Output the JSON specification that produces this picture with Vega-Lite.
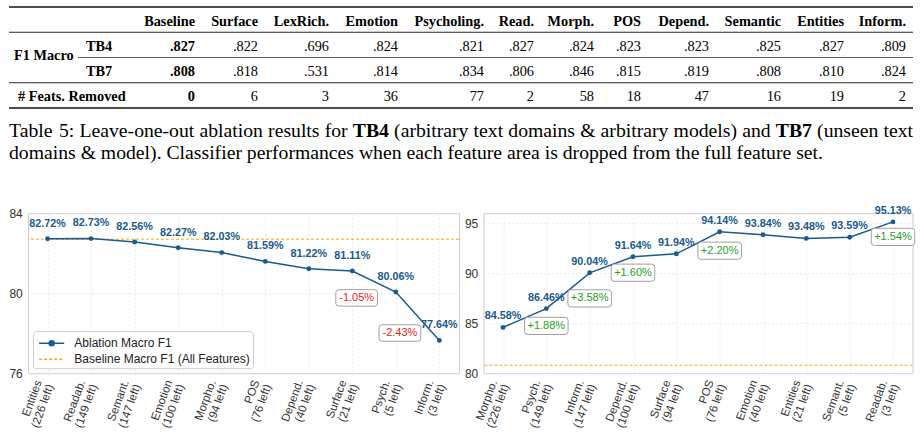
{
 "$schema": "https://vega.github.io/schema/vega-lite/v6.json",
 "background": "white",
 "padding": {"left": 8, "top": 6, "right": 5, "bottom": 0},
 "config": {"view": {"stroke": null}, "font": "Liberation Sans"},
 "datasets": {
  "table": [
   {"k": -1, "r": "TB4", "t": "TB4"}, {"k": -1, "r": "TB7", "t": "TB7"},
   {"k": 0, "r": "header", "t": "Baseline"}, {"k": 0, "r": "TB4", "t": ".827"}, {"k": 0, "r": "TB7", "t": ".808"}, {"k": 0, "r": "feats", "t": "0"},
   {"k": 1, "r": "header", "t": "Surface"}, {"k": 1, "r": "TB4", "t": ".822"}, {"k": 1, "r": "TB7", "t": ".818"}, {"k": 1, "r": "feats", "t": "6"},
   {"k": 2, "r": "header", "t": "LexRich."}, {"k": 2, "r": "TB4", "t": ".696"}, {"k": 2, "r": "TB7", "t": ".531"}, {"k": 2, "r": "feats", "t": "3"},
   {"k": 3, "r": "header", "t": "Emotion"}, {"k": 3, "r": "TB4", "t": ".824"}, {"k": 3, "r": "TB7", "t": ".814"}, {"k": 3, "r": "feats", "t": "36"},
   {"k": 4, "r": "header", "t": "Psycholing."}, {"k": 4, "r": "TB4", "t": ".821"}, {"k": 4, "r": "TB7", "t": ".834"}, {"k": 4, "r": "feats", "t": "77"},
   {"k": 5, "r": "header", "t": "Read."}, {"k": 5, "r": "TB4", "t": ".827"}, {"k": 5, "r": "TB7", "t": ".806"}, {"k": 5, "r": "feats", "t": "2"},
   {"k": 6, "r": "header", "t": "Morph."}, {"k": 6, "r": "TB4", "t": ".824"}, {"k": 6, "r": "TB7", "t": ".846"}, {"k": 6, "r": "feats", "t": "58"},
   {"k": 7, "r": "header", "t": "POS"}, {"k": 7, "r": "TB4", "t": ".823"}, {"k": 7, "r": "TB7", "t": ".815"}, {"k": 7, "r": "feats", "t": "18"},
   {"k": 8, "r": "header", "t": "Depend."}, {"k": 8, "r": "TB4", "t": ".823"}, {"k": 8, "r": "TB7", "t": ".819"}, {"k": 8, "r": "feats", "t": "47"},
   {"k": 9, "r": "header", "t": "Semantic"}, {"k": 9, "r": "TB4", "t": ".825"}, {"k": 9, "r": "TB7", "t": ".808"}, {"k": 9, "r": "feats", "t": "16"},
   {"k": 10, "r": "header", "t": "Entities"}, {"k": 10, "r": "TB4", "t": ".827"}, {"k": 10, "r": "TB7", "t": ".810"}, {"k": 10, "r": "feats", "t": "19"},
   {"k": 11, "r": "header", "t": "Inform."}, {"k": 11, "r": "TB4", "t": ".809"}, {"k": 11, "r": "TB7", "t": ".824"}, {"k": 11, "r": "feats", "t": "2"}
  ],
  "cap": [
   {"l": "1", "p": 0, "t": "Table"}, {"l": "1", "p": 6, "t": "5:"}, {"l": "1", "p": 9, "t": "Leave-one-out"},
   {"l": "1", "p": 23, "t": "ablation"}, {"l": "1", "p": 32, "t": "results"}, {"l": "1", "p": 40, "t": "for"},
   {"l": "1", "p": 44, "t": "TB4"}, {"l": "1", "p": 48, "t": "(arbitrary"}, {"l": "1", "p": 59, "t": "text"},
   {"l": "1", "p": 64, "t": "domains"}, {"l": "1", "p": 72, "t": "&"}, {"l": "1", "p": 74, "t": "arbitrary"},
   {"l": "1", "p": 84, "t": "models)"}, {"l": "1", "p": 92, "t": "and"}, {"l": "1", "p": 96, "t": "TB7"},
   {"l": "1", "p": 100, "t": "(unseen"}, {"l": "1", "p": 108, "t": "text"},
   {"l": "2", "p": 0, "t": "domains & model). Classifier performances when each feature area is dropped from the full feature set."}
  ],
  "left": [
   {"lab": "Entities\n(226 left)", "f1": 0.8272},
   {"lab": "Readab.\n(149 left)", "f1": 0.8273},
   {"lab": "Semant.\n(147 left)", "f1": 0.8256},
   {"lab": "Emotion\n(100 left)", "f1": 0.8227},
   {"lab": "Morpho.\n(94 left)", "f1": 0.8203},
   {"lab": "POS\n(76 left)", "f1": 0.8159},
   {"lab": "Depend.\n(40 left)", "f1": 0.8122},
   {"lab": "Surface\n(21 left)", "f1": 0.8111},
   {"lab": "Psych.\n(5 left)", "f1": 0.8006, "d": "-1.05%"},
   {"lab": "Inform.\n(3 left)", "f1": 0.7764, "d": "-2.43%"}
  ],
  "right": [
   {"lab": "Morpho.\n(226 left)", "f1": 0.8458},
   {"lab": "Psych.\n(149 left)", "f1": 0.8646, "d": "+1.88%"},
   {"lab": "Inform.\n(147 left)", "f1": 0.9004, "d": "+3.58%"},
   {"lab": "Depend.\n(100 left)", "f1": 0.9164, "d": "+1.60%"},
   {"lab": "Surface\n(94 left)", "f1": 0.9194},
   {"lab": "POS\n(76 left)", "f1": 0.9414, "d": "+2.20%"},
   {"lab": "Emotion\n(40 left)", "f1": 0.9384},
   {"lab": "Entities\n(21 left)", "f1": 0.9348},
   {"lab": "Semant.\n(5 left)", "f1": 0.9359},
   {"lab": "Readab.\n(3 left)", "f1": 0.9513, "d": "+1.54%"}
  ]
 },
 "resolve": {"scale": {"color": "independent"}, "legend": {"color": "independent"}},
 "spacing": 10.6,
 "columns": 1,
 "align": "none",
 "concat": [
  {"width": 885, "height": 101, "layer": [
   {"data": {"name": "table"}, "transform": [{"filter": "datum.r === 'header' || datum.k === 0"}],
    "mark": {"type": "text", "align": "right", "baseline": "middle", "font": "Liberation Serif", "fontSize": 14.3, "fontWeight": "bold", "color": "#000000", "dy": 2},
    "encoding": {
     "x": {"field": "k", "type": "quantitative", "scale": {"domain": [-3, -2, -1, 0, 1, 2, 3, 4, 5, 6, 7, 8, 9, 10, 11, 12], "range": [-19, 50, 71, 167, 230, 301, 370, 456, 506, 566, 613, 681, 753, 816, 878, 885], "zero": false, "nice": false}, "axis": null},
     "y": {"field": "r", "type": "nominal", "scale": {"type": "band", "domain": ["header", "TB4", "TB7", "feats"], "paddingInner": 0, "paddingOuter": 0}, "axis": null},
     "text": {"field": "t"}}},
   {"data": {"name": "table"}, "transform": [{"filter": "datum.r !== 'header' && datum.k > 0"}],
    "mark": {"type": "text", "align": "right", "baseline": "middle", "font": "Liberation Serif", "fontSize": 14.3, "fontWeight": "normal", "color": "#000000", "dy": 2},
    "encoding": {"x": {"field": "k", "type": "quantitative"}, "y": {"field": "r", "type": "nominal"}, "text": {"field": "t"}}},
   {"data": {"name": "table"}, "transform": [{"filter": "datum.k === -1"}],
    "mark": {"type": "text", "align": "center", "baseline": "middle", "font": "Liberation Serif", "fontSize": 14.3, "fontWeight": "bold", "color": "#000000", "dy": 2},
    "encoding": {"x": {"field": "k", "type": "quantitative"}, "y": {"field": "r", "type": "nominal"}, "text": {"field": "t"}}},
   {"data": {"values": [{"r": "feats", "t": "# Feats. Removed"}]},
    "mark": {"type": "text", "align": "left", "baseline": "middle", "font": "Liberation Serif", "fontSize": 14.3, "fontWeight": "bold", "color": "#000000", "dx": 9, "dy": 2},
    "encoding": {"x": {"datum": -3, "type": "quantitative"}, "y": {"field": "r", "type": "nominal"}, "text": {"field": "t"}}},
   {"data": {"values": [{"t": "F1 Macro"}]},
    "mark": {"type": "text", "align": "left", "baseline": "middle", "font": "Liberation Serif", "fontSize": 14.3, "fontWeight": "bold", "color": "#000000", "dx": 5, "dy": -2},
    "encoding": {"x": {"datum": -3, "type": "quantitative"}, "y": {"datum": "TB7", "type": "nominal", "bandPosition": 0}, "text": {"field": "t"}}},
   {"data": {"values": [{"r": "header"}, {"r": "TB4"}, {"r": "feats"}]},
    "mark": {"type": "rule", "color": "#111111"},
    "encoding": {"x": {"datum": -3, "type": "quantitative"}, "x2": {"datum": 12}, "y": {"field": "r", "type": "nominal", "bandPosition": 0},
     "strokeWidth": {"condition": {"test": "datum.r === 'header'", "value": 1.4}, "value": 0.9}}},
   {"data": {"values": [{"r": "TB7"}]},
    "mark": {"type": "rule", "color": "#111111", "strokeWidth": 0.7},
    "encoding": {"x": {"datum": -2, "type": "quantitative"}, "x2": {"datum": 12}, "y": {"field": "r", "type": "nominal", "bandPosition": 0}}},
   {"data": {"values": [{"r": "feats"}]},
    "mark": {"type": "rule", "color": "#111111", "strokeWidth": 1.4},
    "encoding": {"x": {"datum": -3, "type": "quantitative"}, "x2": {"datum": 12}, "y": {"field": "r", "type": "nominal", "bandPosition": 1}}}
  ]},
  {"width": 885, "height": 74, "data": {"name": "cap"}, "layer": [
   {"transform": [{"filter": "datum.t !== 'TB4' && datum.t !== 'TB7'"}],
    "mark": {"type": "text", "align": "left", "baseline": "middle", "font": "Liberation Serif", "fontSize": 19.7, "color": "#000000"},
    "encoding": {
     "x": {"field": "p", "type": "quantitative", "scale": {"domain": [0, 6, 9, 23, 32, 40, 44, 48, 59, 64, 72, 74, 84, 92, 96, 100, 108, 112], "range": [-19, 31.0, 51.5, 171.5, 240.1, 296.7, 324.8, 366.1, 445.6, 480.3, 552.2, 572.6, 645.6, 714.2, 747.8, 789.1, 855.5, 885], "zero": false, "nice": false}, "axis": null},
     "y": {"field": "l", "type": "nominal", "scale": {"type": "band", "domain": ["1", "2"], "paddingInner": 0, "paddingOuter": 0.682, "align": 0}, "axis": null},
     "text": {"field": "t"}}},
   {"transform": [{"filter": "datum.t === 'TB4' || datum.t === 'TB7'"}],
    "mark": {"type": "text", "align": "left", "baseline": "middle", "font": "Liberation Serif", "fontSize": 19.7, "fontWeight": "bold", "color": "#000000"},
    "encoding": {"x": {"field": "p", "type": "quantitative"}, "y": {"field": "l", "type": "nominal"}, "text": {"field": "t"}}}
  ]},
  {"spacing": 3.5,
   "resolve": {"scale": {"color": "independent"}, "legend": {"color": "independent"}},
   "hconcat": [
   {"width": 431, "height": 160, "view": {"stroke": "#cccccc", "strokeWidth": 1},
    "data": {"name": "left"},
    "layer": [
     {"data": {"values": [{}]}, "mark": {"type": "rule", "strokeDash": [3, 2], "strokeWidth": 1}, "encoding": {"y": {"datum": 0.827, "type": "quantitative"}, "color": {"datum": "Baseline Macro F1 (All Features)", "type": "nominal"}}},
     {"mark": {"type": "line", "strokeWidth": 1.5}, "encoding": {
       "x": {"field": "lab", "type": "nominal", "scale": {"type": "point", "padding": 0.45, "domain": ["Entities\n(226 left)", "Readab.\n(149 left)", "Semant.\n(147 left)", "Emotion\n(100 left)", "Morpho.\n(94 left)", "POS\n(76 left)", "Depend.\n(40 left)", "Surface\n(21 left)", "Psych.\n(5 left)", "Inform.\n(3 left)"]},
         "axis": {"title": null, "domain": false, "ticks": false, "grid": true, "gridColor": "#e4e4e4", "gridDash": [2, 2], "gridWidth": 0.8, "labelAngle": -70, "labelAlign": "right", "labelBaseline": "middle", "labelFont": "Liberation Sans", "labelFontSize": 11.5, "labelLineHeight": 12.5, "labelColor": "#333333", "labelOffset": -9, "labelPadding": 7, "labelOverlap": false, "labelExpr": "split(datum.label, '\\n')"}},
       "y": {"field": "f1", "type": "quantitative", "scale": {"domain": [0.76, 0.84], "nice": false, "zero": false},
         "axis": {"title": null, "domain": false, "ticks": false, "grid": true, "gridColor": "#e4e4e4", "gridDash": [2, 2], "gridWidth": 0.8, "values": [0.76, 0.78, 0.8, 0.82, 0.84], "labelExpr": "round(datum.value * 100)", "labelFont": "Liberation Sans", "labelFontSize": 12, "labelColor": "#333333", "labelPadding": 5.7}},
       "order": {"value": null},
       "color": {"datum": "Ablation Macro F1", "type": "nominal",
         "scale": {"domain": ["Ablation Macro F1", "Baseline Macro F1 (All Features)"], "range": ["#1a5a8c", "#ffa31a"]},
         "legend": {"orient": "bottom-left", "offset": 5, "title": null, "padding": 2.5, "fillColor": "rgba(255,255,255,0.85)", "strokeColor": "#cccccc", "cornerRadius": 3, "labelFont": "Liberation Sans", "labelFontSize": 12, "labelColor": "#222222", "labelOffset": 19.8, "labelLimit": 400, "symbolSize": 278, "symbolStrokeWidth": 1.5, "rowPadding": 0,
           "encode": {"symbols": {"update": {
             "shape": {"signal": "datum.value === 'Ablation Macro F1' ? 'M-0.7,0H2.3M1.1,0A0.3,0.3,0,1,1,0.5,0A0.3,0.3,0,1,1,1.1,0' : 'M-0.7,0H2.3'"},
             "fill": {"signal": "datum.value === 'Ablation Macro F1' ? '#1a5a8c' : 'transparent'"},
             "strokeDash": {"signal": "datum.value === 'Ablation Macro F1' ? [] : [3, 2]"},
             "strokeWidth": {"value": 1.5},
             "opacity": {"value": 1}}}}}}}},
     {"mark": {"type": "point", "filled": true, "size": 24, "opacity": 1, "color": "#1a5a8c"}, "encoding": {"x": {"field": "lab", "type": "nominal"}, "y": {"field": "f1", "type": "quantitative"}}},
     {"mark": {"type": "text", "fontWeight": "bold", "fontSize": 10.8, "color": "#1a5a8c", "dy": -15.3, "baseline": "middle"}, "encoding": {"x": {"field": "lab", "type": "nominal"}, "y": {"field": "f1", "type": "quantitative"}, "text": {"field": "f1", "type": "quantitative", "format": ".2%"}}},
     {"transform": [{"filter": "datum.d === '-1.05%'"}], "layer": [
       {"mark": {"type": "point", "shape": "M-0.86,-0.395H0.86Q1,-0.395,1,-0.255V0.255Q1,0.395,0.86,0.395H-0.86Q-1,0.395,-1,0.255V-0.255Q-1,-0.395,-0.86,-0.395Z", "size": 1740, "filled": true, "fill": "#ffffff", "fillOpacity": 0.9, "stroke": "#a0a0a0", "strokeWidth": 1, "opacity": 1, "xOffset": -39.2, "yOffset": 5.9}, "encoding": {"x": {"field": "lab", "type": "nominal"}, "y": {"field": "f1", "type": "quantitative"}}},
       {"mark": {"type": "text", "fontSize": 11, "color": "#ee2020", "dx": -39.2, "dy": 5.9, "baseline": "middle"}, "encoding": {"x": {"field": "lab", "type": "nominal"}, "y": {"field": "f1", "type": "quantitative"}, "text": {"field": "d"}}}
     ]},
     {"transform": [{"filter": "datum.d === '-2.43%'"}], "layer": [
       {"mark": {"type": "point", "shape": "M-0.86,-0.395H0.86Q1,-0.395,1,-0.255V0.255Q1,0.395,0.86,0.395H-0.86Q-1,0.395,-1,0.255V-0.255Q-1,-0.395,-0.86,-0.395Z", "size": 1740, "filled": true, "fill": "#ffffff", "fillOpacity": 0.9, "stroke": "#a0a0a0", "strokeWidth": 1, "opacity": 1, "xOffset": -39.5, "yOffset": -7.4}, "encoding": {"x": {"field": "lab", "type": "nominal"}, "y": {"field": "f1", "type": "quantitative"}}},
       {"mark": {"type": "text", "fontSize": 11, "color": "#ee2020", "dx": -39.5, "dy": -7.4, "baseline": "middle"}, "encoding": {"x": {"field": "lab", "type": "nominal"}, "y": {"field": "f1", "type": "quantitative"}, "text": {"field": "d"}}}
     ]}
    ]},
   {"width": 429, "height": 160, "view": {"stroke": "#cccccc", "strokeWidth": 1},
    "data": {"name": "right"},
    "layer": [
     {"data": {"values": [{}]}, "mark": {"type": "rule", "strokeDash": [3, 2], "strokeWidth": 1, "color": "#ffa31a"}, "encoding": {"y": {"datum": 0.808, "type": "quantitative"}}},
     {"mark": {"type": "line", "strokeWidth": 1.5, "color": "#1a5a8c"}, "encoding": {
       "x": {"field": "lab", "type": "nominal", "scale": {"type": "point", "padding": 0.45, "domain": ["Morpho.\n(226 left)", "Psych.\n(149 left)", "Inform.\n(147 left)", "Depend.\n(100 left)", "Surface\n(94 left)", "POS\n(76 left)", "Emotion\n(40 left)", "Entities\n(21 left)", "Semant.\n(5 left)", "Readab.\n(3 left)"]},
         "axis": {"title": null, "domain": false, "ticks": false, "grid": true, "gridColor": "#e4e4e4", "gridDash": [2, 2], "gridWidth": 0.8, "labelAngle": -70, "labelAlign": "right", "labelBaseline": "middle", "labelFont": "Liberation Sans", "labelFontSize": 11.5, "labelLineHeight": 12.5, "labelColor": "#333333", "labelOffset": -9, "labelPadding": 7, "labelOverlap": false, "labelExpr": "split(datum.label, '\\n')"}},
       "y": {"field": "f1", "type": "quantitative", "scale": {"domain": [0.8, 0.96], "nice": false, "zero": false},
         "axis": {"title": null, "domain": false, "ticks": false, "grid": true, "gridColor": "#e4e4e4", "gridDash": [2, 2], "gridWidth": 0.8, "values": [0.8, 0.85, 0.9, 0.95], "labelExpr": "round(datum.value * 100)", "labelFont": "Liberation Sans", "labelFontSize": 12, "labelColor": "#333333", "labelPadding": 5.7}},
       "order": {"value": null}}},
     {"mark": {"type": "point", "filled": true, "size": 24, "opacity": 1, "color": "#1a5a8c"}, "encoding": {"x": {"field": "lab", "type": "nominal"}, "y": {"field": "f1", "type": "quantitative"}}},
     {"mark": {"type": "text", "fontWeight": "bold", "fontSize": 10.8, "color": "#1a5a8c", "dy": -11, "baseline": "middle"}, "encoding": {"x": {"field": "lab", "type": "nominal"}, "y": {"field": "f1", "type": "quantitative"}, "text": {"field": "f1", "type": "quantitative", "format": ".2%"}}},
     {"transform": [{"filter": "datum.d === '+1.88%'"}], "layer": [
       {"mark": {"type": "point", "shape": "M-0.86,-0.395H0.86Q1,-0.395,1,-0.255V0.255Q1,0.395,0.86,0.395H-0.86Q-1,0.395,-1,0.255V-0.255Q-1,-0.395,-0.86,-0.395Z", "size": 1892, "filled": true, "fill": "#ffffff", "fillOpacity": 0.9, "stroke": "#a0a0a0", "strokeWidth": 1, "opacity": 1, "yOffset": 17.3}, "encoding": {"x": {"field": "lab", "type": "nominal"}, "y": {"field": "f1", "type": "quantitative"}}},
       {"mark": {"type": "text", "fontSize": 11, "color": "#23a023", "dy": 17.3, "baseline": "middle"}, "encoding": {"x": {"field": "lab", "type": "nominal"}, "y": {"field": "f1", "type": "quantitative"}, "text": {"field": "d"}}}
     ]},
     {"transform": [{"filter": "datum.d === '+3.58%'"}], "layer": [
       {"mark": {"type": "point", "shape": "M-0.86,-0.395H0.86Q1,-0.395,1,-0.255V0.255Q1,0.395,0.86,0.395H-0.86Q-1,0.395,-1,0.255V-0.255Q-1,-0.395,-0.86,-0.395Z", "size": 1892, "filled": true, "fill": "#ffffff", "fillOpacity": 0.9, "stroke": "#a0a0a0", "strokeWidth": 1, "opacity": 1, "yOffset": 25.6}, "encoding": {"x": {"field": "lab", "type": "nominal"}, "y": {"field": "f1", "type": "quantitative"}}},
       {"mark": {"type": "text", "fontSize": 11, "color": "#23a023", "dy": 25.6, "baseline": "middle"}, "encoding": {"x": {"field": "lab", "type": "nominal"}, "y": {"field": "f1", "type": "quantitative"}, "text": {"field": "d"}}}
     ]},
     {"transform": [{"filter": "datum.d === '+1.60%'"}], "layer": [
       {"mark": {"type": "point", "shape": "M-0.86,-0.395H0.86Q1,-0.395,1,-0.255V0.255Q1,0.395,0.86,0.395H-0.86Q-1,0.395,-1,0.255V-0.255Q-1,-0.395,-0.86,-0.395Z", "size": 1892, "filled": true, "fill": "#ffffff", "fillOpacity": 0.9, "stroke": "#a0a0a0", "strokeWidth": 1, "opacity": 1, "yOffset": 15.9}, "encoding": {"x": {"field": "lab", "type": "nominal"}, "y": {"field": "f1", "type": "quantitative"}}},
       {"mark": {"type": "text", "fontSize": 11, "color": "#23a023", "dy": 15.9, "baseline": "middle"}, "encoding": {"x": {"field": "lab", "type": "nominal"}, "y": {"field": "f1", "type": "quantitative"}, "text": {"field": "d"}}}
     ]},
     {"transform": [{"filter": "datum.d === '+2.20%'"}], "layer": [
       {"mark": {"type": "point", "shape": "M-0.86,-0.395H0.86Q1,-0.395,1,-0.255V0.255Q1,0.395,0.86,0.395H-0.86Q-1,0.395,-1,0.255V-0.255Q-1,-0.395,-0.86,-0.395Z", "size": 1892, "filled": true, "fill": "#ffffff", "fillOpacity": 0.9, "stroke": "#a0a0a0", "strokeWidth": 1, "opacity": 1, "yOffset": 18.9}, "encoding": {"x": {"field": "lab", "type": "nominal"}, "y": {"field": "f1", "type": "quantitative"}}},
       {"mark": {"type": "text", "fontSize": 11, "color": "#23a023", "dy": 18.9, "baseline": "middle"}, "encoding": {"x": {"field": "lab", "type": "nominal"}, "y": {"field": "f1", "type": "quantitative"}, "text": {"field": "d"}}}
     ]},
     {"transform": [{"filter": "datum.d === '+1.54%'"}], "layer": [
       {"mark": {"type": "point", "shape": "M-0.86,-0.395H0.86Q1,-0.395,1,-0.255V0.255Q1,0.395,0.86,0.395H-0.86Q-1,0.395,-1,0.255V-0.255Q-1,-0.395,-0.86,-0.395Z", "size": 1892, "filled": true, "fill": "#ffffff", "fillOpacity": 0.9, "stroke": "#a0a0a0", "strokeWidth": 1, "opacity": 1, "yOffset": 15.0}, "encoding": {"x": {"field": "lab", "type": "nominal"}, "y": {"field": "f1", "type": "quantitative"}}},
       {"mark": {"type": "text", "fontSize": 11, "color": "#23a023", "dy": 15.0, "baseline": "middle"}, "encoding": {"x": {"field": "lab", "type": "nominal"}, "y": {"field": "f1", "type": "quantitative"}, "text": {"field": "d"}}}
     ]}
    ]}
  ]}
 ]
}
